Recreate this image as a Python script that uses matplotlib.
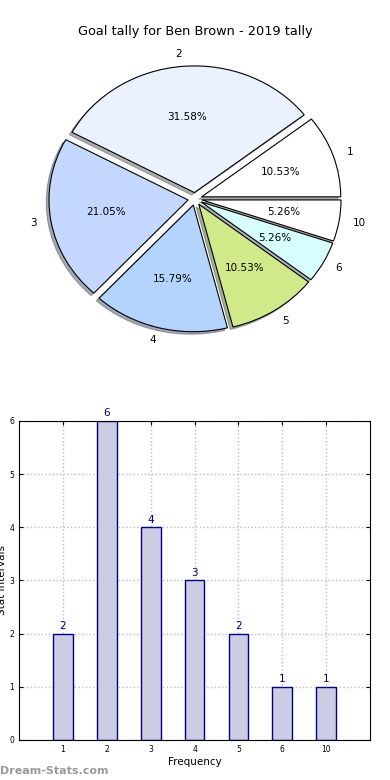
import matplotlib
matplotlib.use("Agg")
import matplotlib.pyplot as plt
import numpy as np

labels = ["1", "2", "3", "4", "5", "6", "10"]
counts = [2, 6, 4, 3, 2, 1, 1]
pie_colors = ["#ffffff", "#eaf1ff", "#c4d8ff", "#b4d4ff", "#d0ea8a", "#d8ffff", "#ffffff"]
title = "Goal tally for Ben Brown - 2019 tally"

fig = plt.figure(figsize=(3.9, 7.8), dpi=100)

# Pie
axp = fig.add_axes([0.054, 0.542, 0.892, 0.406])
wedges, texts, autotexts = axp.pie(
    counts, labels=labels, colors=pie_colors, explode=[0.05] * len(counts),
    autopct="%1.2f%%", startangle=0, counterclock=True,
    shadow=dict(ox=-0.014, oy=-0.014, shade=0.6),
    wedgeprops=dict(edgecolor="black", linewidth=0.8),
    textprops=dict(fontsize=7.5), labeldistance=1.1)
axp.set_aspect("auto")
axp.set_xlim(-1.25, 1.25)
axp.set_ylim(-1.25, 1.25)
axp.set_title(title, fontsize=9.3, pad=4)

# Bar
axb = fig.add_axes([0.049, 0.0513, 0.9, 0.409])
x = np.arange(1, len(counts) + 1)
bars = axb.bar(x, counts, width=0.45, color="#cccce4", edgecolor="#000080", linewidth=1.0, zorder=2)
for xi, c in zip(x, counts):
    axb.text(xi, c + 0.05, str(c), ha="center", va="bottom", color="#000080", fontsize=7.5)
axb.set_xlim(0, 8)
axb.set_ylim(0, 6)
axb.set_xticks(x)
axb.set_xticklabels(labels)
axb.set_yticks(range(0, 7))
axb.tick_params(labelsize=5.5, direction="in", top=True, right=True, length=3)
axb.grid(True, linestyle=":", color="#bbbbbb", linewidth=1.0, zorder=0)
axb.set_axisbelow(True)
axb.set_xlabel("Frequency", fontsize=7.5, labelpad=2)
axb.set_ylabel("Stat Intervals", fontsize=7.5, labelpad=2)

fig.text(0.0, 0.005, "Dream-Stats.com", fontsize=8, color="#999999", fontweight="bold", ha="left", va="bottom")

fig.savefig("out.png", dpi=100)
